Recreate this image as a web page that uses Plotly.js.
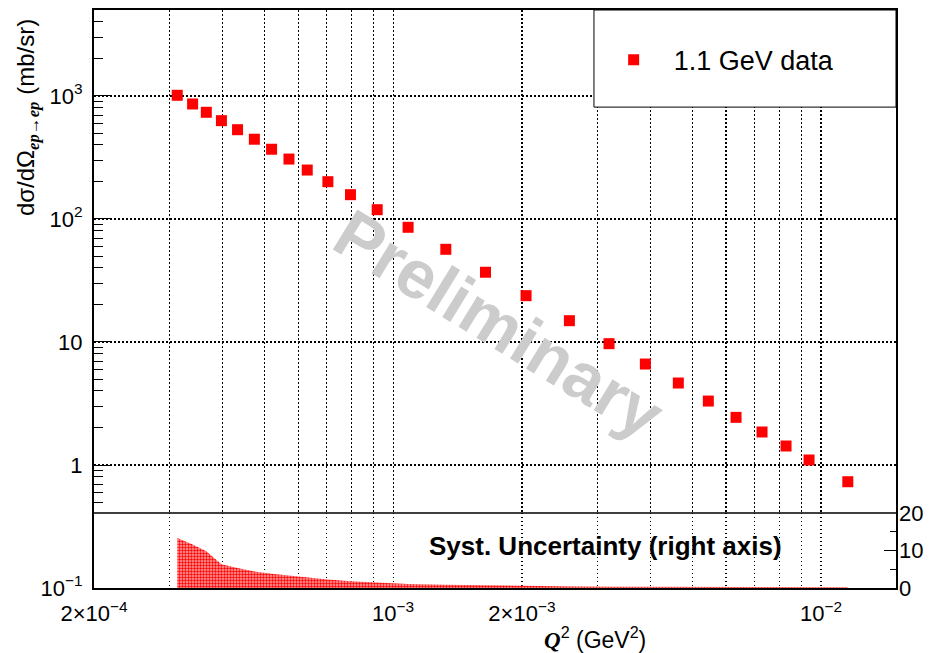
<!DOCTYPE html>
<html><head><meta charset="utf-8">
<script src="https://cdn.plot.ly/plotly-3.0.1.min.js"></script>
<style>html,body{margin:0;padding:0;background:#fff}#chart{width:930px;height:653px}</style>
</head><body><div id="chart"></div>
<script>
// Q^2 values (GeV^2)
const q2 = [3.13e-4, 3.40e-4, 3.66e-4, 3.97e-4, 4.33e-4, 4.74e-4, 5.20e-4, 5.71e-4, 6.30e-4,
  7.04e-4, 7.95e-4, 9.18e-4, 1.084e-3, 1.328e-3, 1.644e-3, 2.045e-3, 2.582e-3, 3.196e-3,
  3.886e-3, 4.640e-3, 5.453e-3, 6.330e-3, 7.280e-3, 8.284e-3, 9.376e-3, 1.155e-2];
// cross section dσ/dΩ (mb/sr)
const xsec = [1013, 861, 737, 630, 532, 445, 369, 307, 250, 201, 157.6, 119, 85.6, 56.7, 36.9,
  23.8, 14.9, 9.69, 6.62, 4.64, 3.31, 2.44, 1.855, 1.427, 1.098, 0.731];
// systematic uncertainty (right axis)
const syst = [13.3, 11.6, 9.8, 6.3, 5.3, 4.4, 3.8, 3.3, 2.8, 2.3, 1.8, 1.4, 1.1, 0.9, 0.7,
  0.5, 0.4, 0.35, 0.3, 0.3, 0.3, 0.25, 0.25, 0.2, 0.2, 0.2];

const seriesName = '1.1 GeV data';
const xMajorTicks = [2e-4, 1e-3, 2e-3, 1e-2];
const xMajorLabels = ['2×10<sup>−4</sup>', '10<sup>−3</sup>', '2×10<sup>−3</sup>', '10<sup>−2</sup>'];
const xMinorTicks = [3e-4, 4e-4, 5e-4, 6e-4, 7e-4, 8e-4, 9e-4, 3e-3, 4e-3, 5e-3, 6e-3, 7e-3, 8e-3, 9e-3];
const yMajorTicks = [0.1, 1, 10, 100, 1000];
const yMajorLabels = ['10<sup>−1</sup>', '1', '10', '10<sup>2</sup>', '10<sup>3</sup>'];
const yMinorTicks = [0.2, 0.3, 0.4, 0.5, 0.6, 0.7, 0.8, 0.9, 2, 3, 4, 5, 6, 7, 8, 9,
  20, 30, 40, 50, 60, 70, 80, 90, 200, 300, 400, 500, 600, 700, 800, 900, 2000, 3000, 4000];
const systTicks = [0, 10, 20];
const systMinor = [5, 15];

const FONT = 'Liberation Sans, Arial, Helvetica, sans-serif';
const DOTS = '1.5px,2.5px';

const traces = [
  {
    x: q2, y: syst, xaxis: 'x', yaxis: 'y2', type: 'scatter', mode: 'lines',
    line: {width: 0, color: 'red'}, fill: 'tozeroy',
    fillcolor: 'rgba(255,40,40,0.6)',
    fillpattern: {shape: '.', fgcolor: 'red', bgcolor: 'rgba(255,165,165,1)', size: 3, solidity: 0.5},
    showlegend: false, hoverinfo: 'skip'
  },
  {
    x: q2, y: xsec, xaxis: 'x', yaxis: 'y', type: 'scatter', mode: 'markers',
    name: seriesName,
    marker: {symbol: 'square', size: 11, color: 'red', line: {width: 0}}
  }
];

const layout = {
  width: 930, height: 653,
  margin: {l: 94, r: 34, t: 10, b: 65},
  paper_bgcolor: 'white', plot_bgcolor: 'white',
  font: {family: FONT, size: 22, color: 'black'},
  showlegend: true,
  legend: {
    x: 0.623, xanchor: 'left', y: 0.913, yanchor: 'middle',
    bgcolor: 'rgba(0,0,0,0)', borderwidth: 0, itemwidth: 70,
    font: {family: FONT, size: 27, color: 'black'}
  },
  xaxis: {
    type: 'log', range: [Math.log10(2e-4), -1.8248],
    tickmode: 'array', tickvals: xMajorTicks, ticktext: xMajorLabels,
    ticks: 'inside', ticklen: 16, tickwidth: 1, tickcolor: 'black',
    showgrid: true, gridcolor: 'black', griddash: DOTS, gridwidth: 1.2,
    minor: {tickmode: 'array', tickvals: xMinorTicks, ticks: 'inside', ticklen: 9,
      tickwidth: 1, tickcolor: 'black', showgrid: true, gridcolor: 'black', griddash: DOTS, gridwidth: 1.2},
    showline: true, linecolor: 'black', linewidth: 2, mirror: true,
    zeroline: false, tickfont: {size: 22, family: FONT}, ticklabelstandoff: 5
  },
  yaxis: {
    type: 'log', range: [-1, 3.699], domain: [0, 1],
    tickmode: 'array', tickvals: yMajorTicks, ticktext: yMajorLabels,
    ticks: 'inside', ticklen: 16, tickwidth: 1, tickcolor: 'black',
    showgrid: true, gridcolor: 'black', griddash: DOTS, gridwidth: 1.2,
    minor: {tickmode: 'array', tickvals: yMinorTicks, ticks: 'inside', ticklen: 9,
      tickwidth: 1, tickcolor: 'black', showgrid: false},
    showline: true, linecolor: 'black', linewidth: 2, mirror: true,
    zeroline: false, tickfont: {size: 22, family: FONT}, ticklabelstandoff: 5
  },
  yaxis2: {
    range: [0, 20], domain: [0, 0.1298], anchor: 'x', side: 'right',
    tickmode: 'array', tickvals: systTicks, ticktext: systTicks.map(String),
    ticks: 'inside', ticklen: 12, tickwidth: 1, tickcolor: 'black',
    minor: {tickmode: 'array', tickvals: systMinor, ticks: 'inside', ticklen: 6, tickwidth: 1, tickcolor: 'black', showgrid: false},
    showgrid: false, zeroline: false, showline: false,
    tickfont: {size: 22, family: FONT}, ticklabelstandoff: 2
  },
  shapes: [
    {type: 'line', xref: 'paper', yref: 'paper', x0: 0, x1: 1, y0: 0.1298, y1: 0.1298,
      line: {color: 'black', width: 1.5}, layer: 'above'},
    {type: 'rect', xref: 'paper', yref: 'paper', x0: 0.6234, x1: 1, y0: 0.832, y1: 1,
      fillcolor: 'white', line: {color: 'black', width: 1}, layer: 'above'}
  ],
  annotations: [
    {text: '<b>Preliminary</b>', xref: 'paper', yref: 'paper', x: 0.506, y: 0.457,
      showarrow: false, textangle: 31.6, font: {family: FONT, size: 68, color: '#cccccc'}},
    {text: '<b>Syst. Uncertainty (right axis)</b>', xref: 'paper', yref: 'paper',
      x: 0.4152, y: 0.0727, xanchor: 'left', yanchor: 'middle', showarrow: false,
      font: {family: FONT, size: 26, color: 'black'}},
    {text: "<span style=\"font-family:'Liberation Serif'\"><b><i>Q</i></b></span><sup>2</sup> (GeV<sup>2</sup>)",
      xref: 'paper', yref: 'paper', x: 0.6247, y: -0.0865, xanchor: 'center', yanchor: 'middle',
      showarrow: false, font: {family: FONT, size: 23, color: 'black'}},
    {text: "dσ/dΩ<sub><span style=\"font-family:'Liberation Serif'\"><b><i>ep→ep</i></b></span></sub> (mb/sr)",
      xref: 'paper', yref: 'paper', x: -0.0835, y: 0.813, xanchor: 'center', yanchor: 'middle',
      textangle: -90, showarrow: false, font: {family: FONT, size: 24, color: 'black'}}
  ]
};

Plotly.newPlot('chart', traces, layout, {staticPlot: true, displayModeBar: false});
</script>
</body></html>
